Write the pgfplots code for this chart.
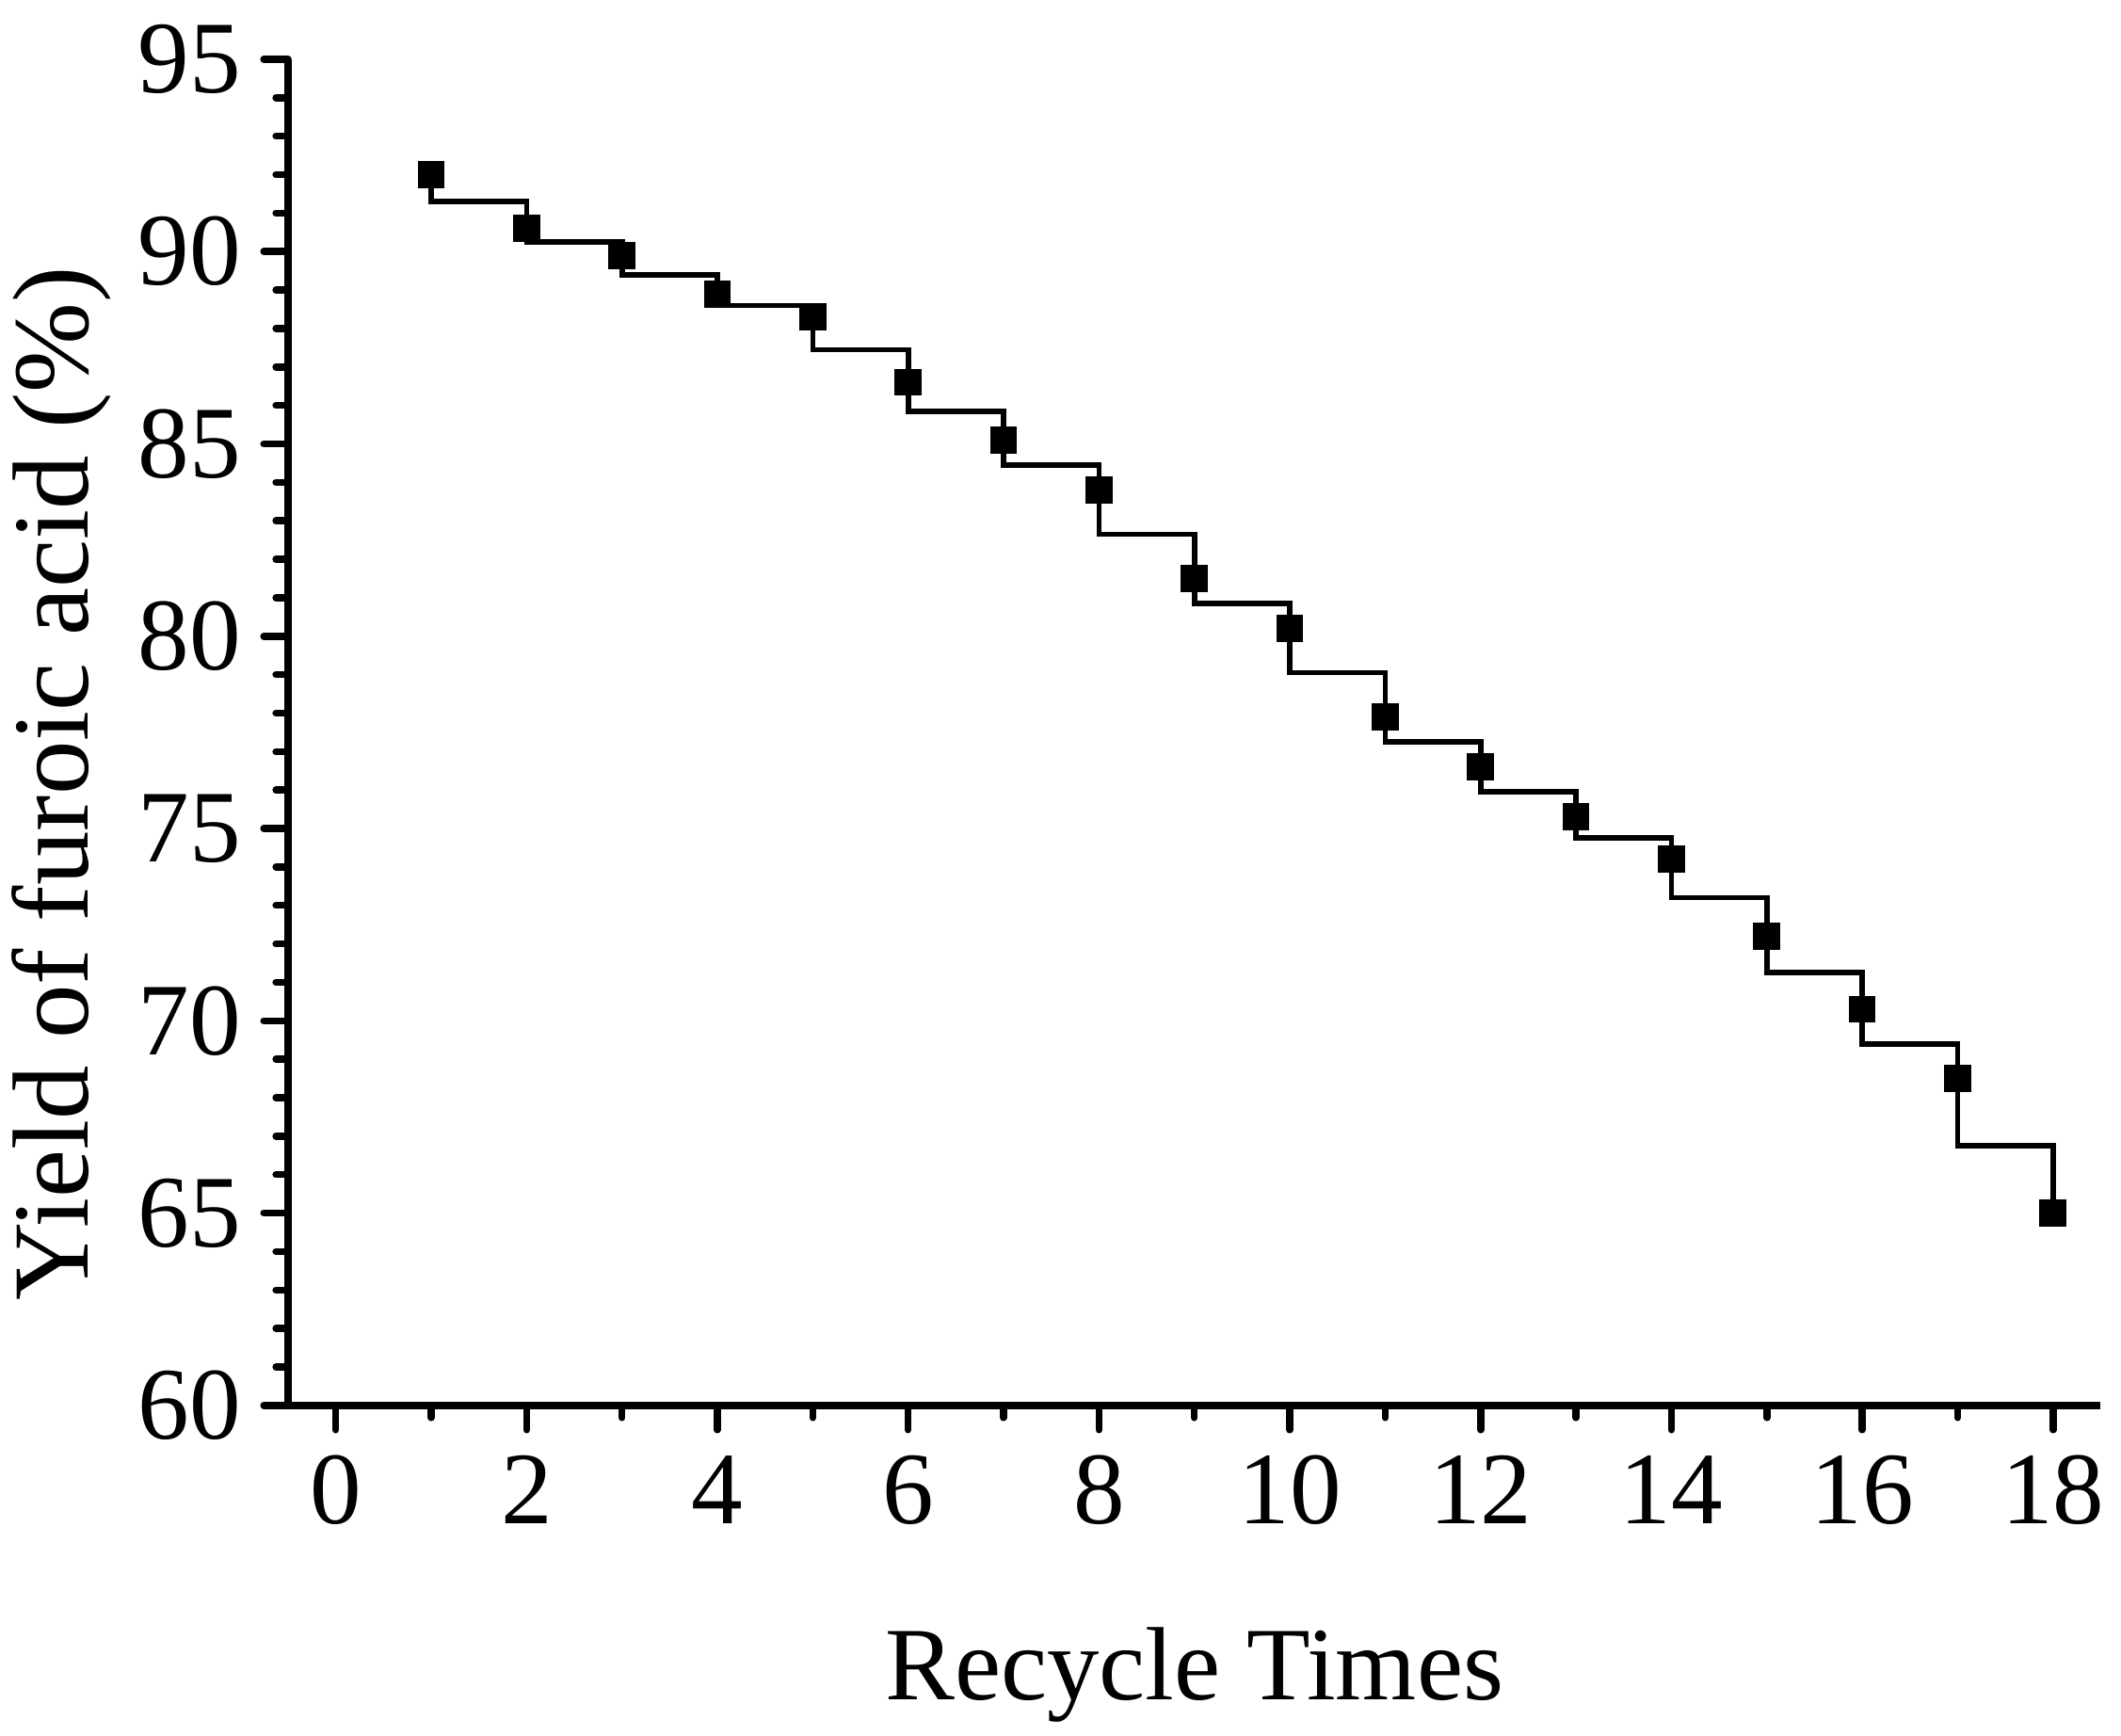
\documentclass[border=0pt]{standalone}
\usepackage{pgfplots}
\pgfplotsset{compat=1.18}
\usepackage{fontspec}
\setmainfont{Liberation Serif}
\begin{document}
\begin{tikzpicture}
\begin{axis}[
  scale only axis,
  width=670pt, height=497.6pt,
  xmin=-0.5, xmax=18.5,
  ymin=60, ymax=95,
  axis lines=left,
  axis line style={-, line width=3pt},
  xtick={0,2,...,18},
  ytick={60,65,...,95},
  minor x tick num=1,
  minor y tick num=4,
  tick align=outside,
  major tick length=9pt,
  minor tick length=4.5pt,
  tick style={line width=2.6pt, line cap=round, black},
  /pgf/number format/assume math mode=true,
  ticklabel style={font=\fontsize{38}{46}\selectfont},
  xticklabel style={yshift=-6pt},
  yticklabel style={xshift=-5pt},
  xlabel={Recycle Times},
  ylabel={Yield of furoic acid (\%)},
  xlabel style={font=\fontsize{38.5}{46}\selectfont, at={(axis description cs:0.5,0)}, anchor=north, inner sep=0pt, yshift=-82pt},
  ylabel style={font=\fontsize{40}{48}\selectfont, at={([xshift=-74pt]axis description cs:0,0.462)}, anchor=base, inner sep=0pt},
  clip=false,
]
\addplot[black, line width=2pt, line join=miter, no marks] coordinates {
(1,92) (1,91.3) (2,91.3) (2,90.25) (3,90.25) (3,89.4) (4,89.4) (4,88.6)
(5,88.6) (5,87.45) (6,87.45) (6,85.85) (7,85.85) (7,84.45) (8,84.45) (8,82.65)
(9,82.65) (9,80.85) (10,80.85) (10,79.05) (11,79.05) (11,77.25) (12,77.25) (12,75.95)
(13,75.95) (13,74.75) (14,74.75) (14,73.2) (15,73.2) (15,71.25) (16,71.25) (16,69.4)
(17,69.4) (17,66.75) (18,66.75) (18,65)
};
\addplot[only marks, mark=square*, mark size=4.6pt, mark options={fill=black, draw=black, line width=0.8pt}] coordinates {
(1,92.0) (2,90.6) (3,89.9) (4,88.9) (5,88.3) (6,86.6) (7,85.1) (8,83.8) (9,81.5)
(10,80.2) (11,77.9) (12,76.6) (13,75.3) (14,74.2) (15,72.2) (16,70.3) (17,68.5) (18,65.0)
};
\end{axis}
\pgfresetboundingbox
\path[use as bounding box] ([xshift=-106.5pt,yshift=-122.1pt]current axis.south west) rectangle ([xshift=7.5pt,yshift=21.9pt]current axis.north east);
\end{tikzpicture}
\end{document}
